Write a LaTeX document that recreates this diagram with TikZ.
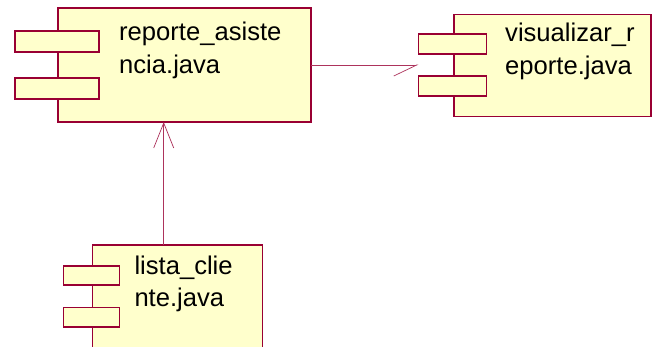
\documentclass[tikz,border=0pt]{standalone}
\usepackage{fontspec}
\setmainfont{Liberation Sans}
\usepackage{tikz}
\usetikzlibrary{arrows.meta, positioning, calc}
\definecolor{roseborder}{HTML}{990033}
\definecolor{rosefill}{HTML}{FFFFCC}
\tikzset{
  compbox/.style={draw=roseborder, fill=rosefill, line width=1.6pt, anchor=north west, inner sep=0pt, outer sep=0pt},
  portbox/.style={draw=roseborder, fill=rosefill, line width=1.6pt, anchor=north west, inner sep=0pt, outer sep=0pt},
  comptext/.style={anchor=base west, inner sep=0pt, align=left, font=\fontsize{25.6}{32.5}\selectfont},
  deplink/.style={draw=roseborder!80, line width=0.7pt}
}

\begin{document}
\begin{tikzpicture}[x=1pt,y=-1pt]
  \clip (0,0) rectangle (652,347);
  \fill[white] (0,0) rectangle (652,347);
  % reporte_asistencia
  \node[compbox, minimum width=253pt, minimum height=114pt] (reporte) at (58,8) {};
  \node[portbox, minimum width=84pt, minimum height=21pt] (reporteportA) at (15,31) {};
  \node[portbox, minimum width=84pt, minimum height=21pt] (reporteportB) at (15,78) {};
  \node[comptext] (reportetxt) at (119,73.5) {reporte\_asiste\\ncia.java};
  % visualizar_reporte
  \node[compbox, minimum width=197pt, minimum height=102pt] (visualizar) at (453.7,14.7) {};
  \node[portbox, minimum width=68pt, minimum height=19.5pt] (visualizarportA) at (418.3,34.3) {};
  \node[portbox, minimum width=68pt, minimum height=19.5pt] (visualizarportB) at (418.3,76.3) {};
  \node[comptext] (visualizartxt) at (505,74.5) {visualizar\_r\\eporte.java};
  % lista_cliente
  \node[compbox, minimum width=170pt, minimum height=120pt] (lista) at (92.3,245) {};
  \node[portbox, minimum width=56pt, minimum height=19.5pt] (listaportA) at (63.3,265.7) {};
  \node[portbox, minimum width=56pt, minimum height=19.5pt] (listaportB) at (63.3,307.3) {};
  \node[comptext] (listatxt) at (134.3,306.5) {lista\_clie\\nte.java};
  % dependencies
  \coordinate (listatop) at (163.7,245);
  \draw[deplink, -{Straight Barb[length=25pt, width=20pt]}] (listatop) -- (listatop |- reporte.south);
  \draw[deplink, -{Straight Barb[length=23pt, width=22pt, right]}] (reporte.east) -- (reporte.east -| visualizarportA.west);
\end{tikzpicture}
\end{document}
